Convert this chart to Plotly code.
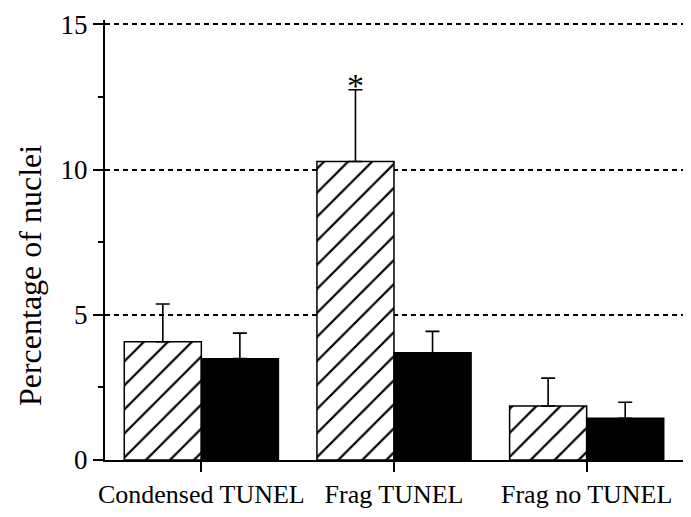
import plotly.graph_objects as go

categories = ["Condensed TUNEL", "Frag TUNEL", "Frag no TUNEL"]
hatched_values = [4.07, 10.28, 1.86]
hatched_errors = [1.30, 2.47, 0.96]
black_values = [3.49, 3.69, 1.44]
black_errors = [0.88, 0.74, 0.55]
y_ticks = [0, 5, 10, 15]
y_title = "Percentage of nuclei"
star_category = 1

xpos = list(range(len(categories)))
BAR_W = 0.4
FONT = "Liberation Serif"

fig = go.Figure()
fig.add_trace(go.Bar(
    x=xpos, y=hatched_values, width=BAR_W, offset=-BAR_W,
    marker=dict(color="white", line=dict(color="black", width=1.5),
                pattern=dict(shape="/", fgcolor="black", bgcolor="white",
                             fgopacity=1, size=17, solidity=0.13,
                             fillmode="replace")),
    error_y=dict(type="data", array=hatched_errors, arrayminus=[0]*3,
                 symmetric=False, color="black", thickness=1.6, width=7),
    showlegend=False,
))
fig.add_trace(go.Bar(
    x=xpos, y=black_values, width=BAR_W, offset=0,
    marker=dict(color="black", line=dict(color="black", width=1.5)),
    error_y=dict(type="data", array=black_errors, arrayminus=[0]*3,
                 symmetric=False, color="black", thickness=1.6, width=7),
    showlegend=False,
))

fig.add_annotation(
    x=star_category - BAR_W / 2,
    y=hatched_values[star_category] + hatched_errors[star_category],
    text="*", showarrow=False, yanchor="bottom", yshift=-16,
    font=dict(family=FONT, size=34, color="black"),
)

# y-axis title placed as annotation (sits lower than the plot centre in the reference)
fig.add_annotation(
    xref="paper", yref="paper", x=-0.13, y=0.42,
    text=y_title, textangle=-90, showarrow=False,
    xanchor="center", yanchor="middle",
    font=dict(family=FONT, size=32, color="black"),
)

fig.update_layout(
    width=691, height=517,
    margin=dict(l=105, r=8, t=20, b=45),
    paper_bgcolor="white", plot_bgcolor="white",
    font=dict(family=FONT, color="black", size=26),
    bargap=0.2,
)
fig.update_xaxes(
    range=[-0.5, 2.5], tickmode="array", tickvals=xpos, ticktext=categories,
    showline=True, linecolor="black", linewidth=2, ticks="outside",
    ticklen=10, tickwidth=1.5, tickcolor="black", showgrid=False,
    zeroline=False, tickfont=dict(family=FONT, size=26),
)
fig.update_yaxes(
    range=[0, 15.15], tickmode="array", tickvals=y_ticks,
    showline=True, linecolor="black", linewidth=2, ticks="outside",
    ticklen=10, tickwidth=1.5, tickcolor="black",
    showgrid=True, gridcolor="black", gridwidth=1.5, griddash="5px,4px",
    zeroline=False, tickfont=dict(family=FONT, size=27),
    minor=dict(tickvals=[2.5, 7.5, 12.5], ticks="outside", ticklen=5,
               tickwidth=1.5, tickcolor="black", showgrid=False),
)

fig.write_html("out.html")
